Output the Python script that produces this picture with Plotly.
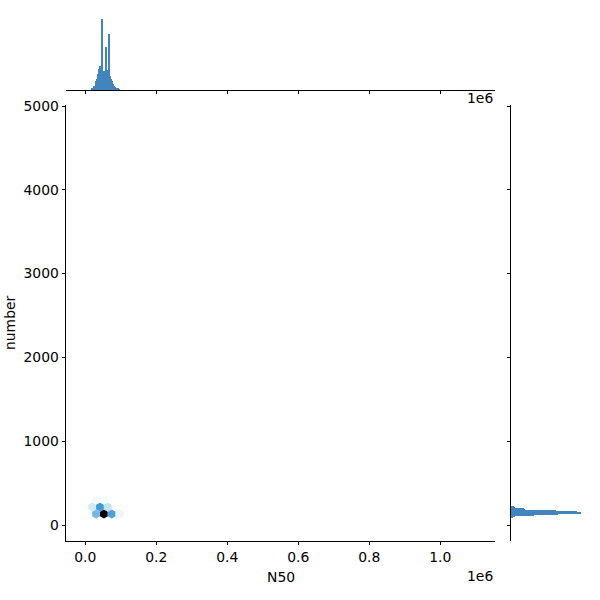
import colorsys
import numpy as np
import plotly.graph_objects as go

# ---- data ----
# marginal histogram of N50 (bin left edges, counts)
n50_bin_left = [17100, 20000, 22900, 25700, 28600, 31400, 34300, 37100, 40000, 42900,
                45700, 48600, 51400, 54300, 57100, 60000, 62900, 65700, 68600, 71400,
                74300, 77100, 80000, 82900, 85700, 88600, 91400, 94300]
n50_counts = [6, 9, 15, 18, 36, 45, 66, 90, 99, 66,
              300, 75, 78, 69, 180, 48, 84, 234, 60, 45,
              36, 24, 18, 12, 9, 6, 5, 3]
n50_bin_width = 2860

# marginal histogram of number (bin left edges, counts)
num_bin_left = [84, 96, 108, 120, 132, 144, 156, 168, 180, 192, 204]
num_counts = [10, 30, 160, 335, 500, 470, 320, 100, 90, 25, 20]
num_bin_width = 12

# hexbin cells (centre N50, centre number, count)
hex_x = [30200, 52300, 74300, 96300, 19300, 41300, 63300, 30300, 52300]
hex_y = [130, 130, 130, 130, 214.5, 214.5, 214.5, 299, 299]
hex_count = [190, 600, 250, 25, 60, 270, 80, 18, 14]

x_ticks = [0, 200000, 400000, 600000, 800000, 1000000]
x_tick_text = ["0.0", "0.2", "0.4", "0.6", "0.8", "1.0"]
y_ticks = [0, 1000, 2000, 3000, 4000, 5000]
y_tick_text = ["0", "1000", "2000", "3000", "4000", "5000"]

# ---- colours ----
base = (31 / 255, 119 / 255, 180 / 255)
h, l, s = colorsys.rgb_to_hls(*base)
stops = []
for i, lv in enumerate(np.linspace(1, 0, 12)):
    r, g, b = colorsys.hls_to_rgb(h, lv, s)
    stops.append([i / 11, f"rgb({r*255:.0f},{g*255:.0f},{b*255:.0f})"])
bar_color = "rgb(66,132,188)"

font = dict(family="DejaVu Sans", size=13.9, color="black")

fig = go.Figure()

fig.add_trace(go.Scatter(
    x=hex_x, y=hex_y, mode="markers", xaxis="x", yaxis="y",
    marker=dict(symbol="hexagon", size=9, color=hex_count, colorscale=stops,
                cmin=1, cmax=max(hex_count), line=dict(width=0)),
    showlegend=False, hoverinfo="skip"))

fig.add_trace(go.Bar(
    x=[v + n50_bin_width / 2 for v in n50_bin_left], y=n50_counts,
    width=n50_bin_width, xaxis="x2", yaxis="y2",
    marker=dict(color=bar_color, line=dict(width=0)), showlegend=False))

fig.add_trace(go.Bar(
    y=[v + num_bin_width / 2 for v in num_bin_left], x=num_counts,
    width=num_bin_width, orientation="h", xaxis="x3", yaxis="y3",
    marker=dict(color=bar_color, line=dict(width=0)), showlegend=False))

axis_common = dict(showgrid=False, zeroline=False, showline=True, linecolor="black",
                   linewidth=0.8, ticks="outside", ticklen=3.5, tickwidth=0.8,
                   tickcolor="black", tickfont=font, automargin=False)

x_range = [-54400, 1154000]
y_range = [-191, 5012]

fig.update_layout(
    template="none",
    width=600, height=600, margin=dict(l=0, r=0, t=0, b=0, pad=0), autosize=False,
    paper_bgcolor="white", plot_bgcolor="white", bargap=0,
    xaxis=dict(domain=[0.11, 0.825], range=x_range, tickvals=x_ticks,
               ticktext=x_tick_text, anchor="y", **axis_common),
    yaxis=dict(domain=[0.0983, 0.825], range=y_range, tickvals=y_ticks,
               ticktext=y_tick_text, anchor="x", **axis_common),
    xaxis2=dict(domain=[0.11, 0.825], range=x_range, tickvals=x_ticks,
                showticklabels=False, anchor="y2", **axis_common),
    yaxis2=dict(domain=[0.85, 0.975], range=[0, max(n50_counts) * 1.05],
                visible=False, anchor="x2", automargin=False),
    xaxis3=dict(domain=[0.8517, 0.975], range=[0, max(num_counts) * 1.05],
                visible=False, anchor="y3", automargin=False),
    yaxis3=dict(domain=[0.0983, 0.825], range=y_range, tickvals=y_ticks,
                showticklabels=False, anchor="x3", **axis_common),
    annotations=[
        dict(text="N50", x=0.4675, y=1 - 577 / 600, xref="paper", yref="paper",
             showarrow=False, font=font, xanchor="center", yanchor="middle"),
        dict(text="number", x=10 / 600, y=1 - 323 / 600, xref="paper", yref="paper",
             showarrow=False, font=font, textangle=-90, xanchor="center", yanchor="middle"),
        dict(text="1e6", x=0.825, y=1 - 576 / 600, xref="paper", yref="paper",
             showarrow=False, font=font, xanchor="right", yanchor="middle"),
        dict(text="1e6", x=0.825, y=1 - 98 / 600, xref="paper", yref="paper",
             showarrow=False, font=font, xanchor="right", yanchor="middle"),
    ],
)

fig.write_html("out.html", config={"displayModeBar": False},
               post_script="document.body.style.margin='0px';")
